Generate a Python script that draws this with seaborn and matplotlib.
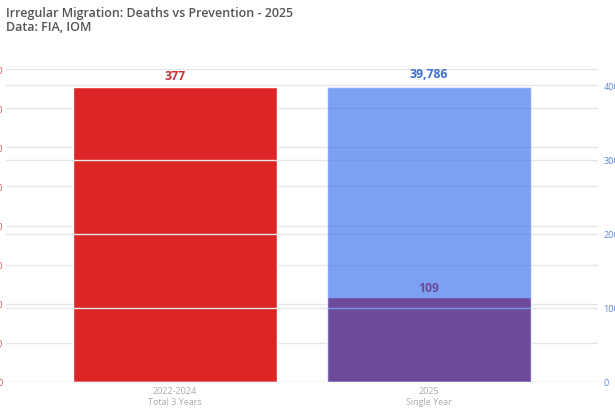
import numpy as np
import pandas as pd
import matplotlib
matplotlib.use("Agg")
import matplotlib.pyplot as plt
import seaborn as sns

# data
periods = ["2022-2024\nTotal 3 Years", "2025\nSingle Year"]
deaths = [377, 109]
prevented = [np.nan, 39786]
left_ticks = [0, 50, 100, 150, 200, 250, 300, 350, 400]
right_ticks = [0, 10000, 20000, 30000, 40000]

red = "#dc2626"
blue = "#2563eb"

sns.set_theme(style="white")
plt.rcParams["font.family"] = ["Open Sans", "DejaVu Sans"]

df = pd.DataFrame({"period": periods, "deaths": deaths, "prevented": prevented})

fig = plt.figure(figsize=(6.15, 4.10), dpi=100)
ax = fig.add_axes([6 / 615, 1 - 383 / 410, 592 / 615, 313 / 410])
ax2 = ax.twinx()

# deaths on the left axis
sns.barplot(data=df, x="period", y="deaths", color=red, width=0.8,
            saturation=1, ax=ax, zorder=2)
# prevention on the right axis, translucent so the overlap turns purple
sns.barplot(data=df, x="period", y="prevented", color=blue, width=0.8,
            saturation=1, alpha=0.6, ax=ax2, zorder=2)

ax.set_xlim(-0.665, 1.665)
ax.set_ylim(0, 400)
scale = prevented[1] / deaths[0]
ax2.set_ylim(0, 400 * scale)
ax.set_yticks(left_ticks)
ax2.set_yticks(right_ticks)

for a in (ax, ax2):
    a.set_axisbelow(True)
    a.grid(axis="y", color="#e6e6e6", linewidth=1)
    a.grid(axis="x", visible=False)
    for s in a.spines.values():
        s.set_visible(False)
    a.set_xlabel("")
    a.set_ylabel("")

ax.tick_params(axis="y", length=0, pad=2, labelsize=6.5, labelcolor="#d9534f")
ax2.tick_params(axis="y", length=0, pad=4, labelsize=6.5, labelcolor="#5b84d6")
ax.tick_params(axis="x", length=0, pad=3, labelsize=6.5, labelcolor="#aaaaaa")

# value labels (all on the top axes so the blue bar does not tint them)
ax2.text(0, (deaths[0] + 6) * scale, f"{deaths[0]:,}", ha="center", va="bottom",
         color="#c53030", fontsize=8.8, fontweight="bold")
ax2.text(1, prevented[1] + 900, f"{prevented[1]:,}", ha="center", va="bottom",
         color="#3b6fd6", fontsize=8.8, fontweight="bold")
ax2.text(1, (deaths[1] + 4) * scale, f"{deaths[1]:,}", ha="center", va="bottom",
         color="#6b4a98", fontsize=8.8, fontweight="bold")

fig.text(6 / 615, 1 - 7 / 410,
         "Irregular Migration: Deaths vs Prevention - 2025\nData: FIA, IOM",
         ha="left", va="top", fontsize=9.0, fontweight="semibold",
         color="#555555", linespacing=1.1)

fig.savefig("out.png", dpi=100)
plt.close(fig)
